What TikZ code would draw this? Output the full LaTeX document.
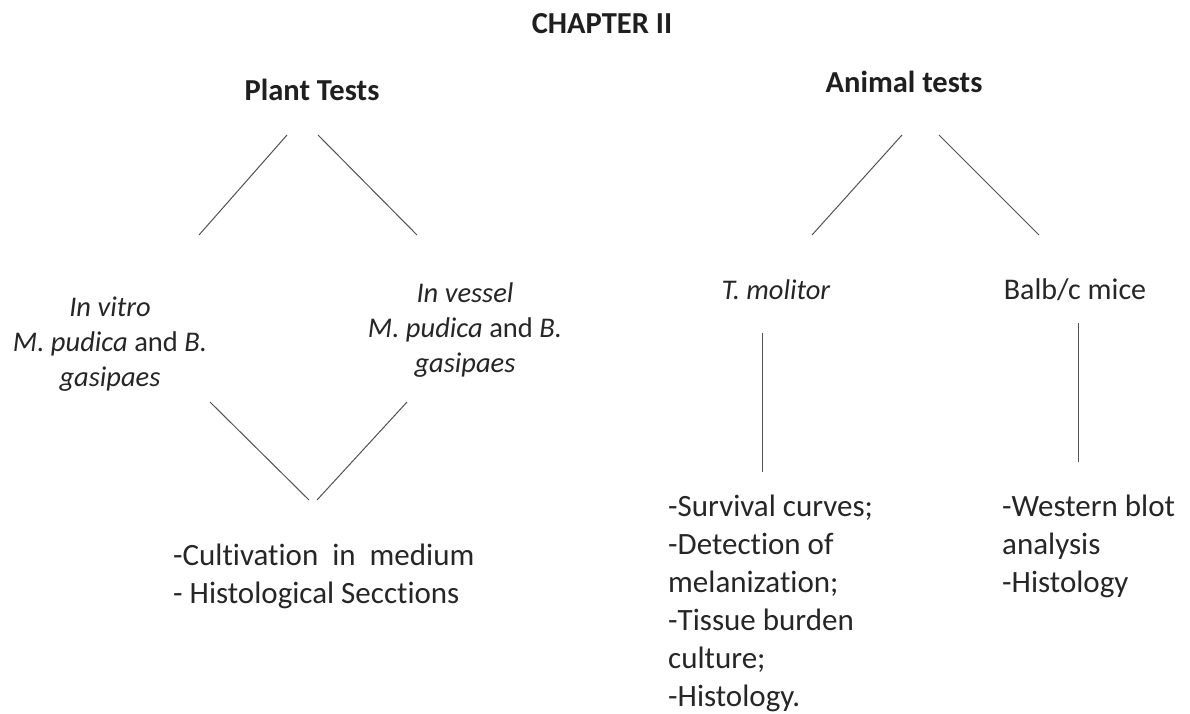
\documentclass[tikz,border=0pt]{standalone}
\usepackage{fontspec}
\setmainfont{Carlito}[Ligatures=NoCommon]
\usetikzlibrary{positioning}
\begin{document}
\begin{tikzpicture}[x=1pt,y=-1pt,
  head/.style={font=\bfseries\fontsize{30.5}{36}\selectfont,text=black!88,inner sep=0pt,anchor=base},
  kind/.style={font=\itshape\fontsize{28.5}{35}\selectfont,text=black!85,inner sep=0pt,align=center,anchor=north},
  leaf/.style={font=\fontsize{30}{35}\selectfont,text=black!85,inner sep=0pt,anchor=base},
  tasks/.style={font=\fontsize{31}{38}\selectfont,text=black!85,inner sep=0pt,align=left,anchor=north west},
  link/.style={draw=black!68,line width=1pt}]
\fill[white] (0,0) rectangle (1190,713);
\useasboundingbox (0,0) rectangle (1190,713);
% headings
\node[head] (chap) at (602,33) {CHAPTER II};
\node[head] (plant) at (312,100) {Plant Tests};
\node[head] (animal) at (904,92) {Animal tests};
% second level
\node[kind] (vitro) at (110,291.5) {\strut In vitro\\M. pudica \textup{and} B.\\gasipaes};
\node[kind] (vessel) at (465,277.5) {\strut In vessel\\M. pudica \textup{and} B.\\gasipaes};
\node[leaf] (moli) at (776,299) {\itshape\fontsize{28.5}{35}\selectfont T. molitor};
\node[leaf] (balb) at (1075,299) {Balb/c mice};
% results
\node[tasks] (plantout) at (173,538.4) {\strut-Cultivation\ \ in\ \ medium\\- Histological Secctions};
\node[tasks] (moliout) at (668,489.4) {\strut-Survival curves;\\-Detection of\\melanization;\\-Tissue burden\\culture;\\-Histology.};
\node[tasks] (balbout) at (1002,489.4) {\strut-Western blot\\analysis\\-Histology};
% connectors
\coordinate (pa) at (287,135);\coordinate (pb) at (199,235);\coordinate (pc) at (318,135);\coordinate (pd) at (417,235);
\coordinate (aa) at (902,135);\coordinate (ab) at (812,235);\coordinate (ac) at (939,135);\coordinate (ad) at (1039,235);
\coordinate (va) at (210,402);\coordinate (vb) at (309,500);\coordinate (vc) at (407,402);\coordinate (vd) at (317,500);
\coordinate (ma) at (762,333);\coordinate (mb) at (762,472);\coordinate (ba) at (1078,323);\coordinate (bb) at (1078,462);
\draw[link] (pa)--(pb);\draw[link] (pc)--(pd);
\draw[link] (aa)--(ab);\draw[link] (ac)--(ad);
\draw[link] (va)--(vb);\draw[link] (vc)--(vd);
\draw[link] (ma)--(mb);\draw[link] (ba)--(bb);
\end{tikzpicture}
\end{document}
